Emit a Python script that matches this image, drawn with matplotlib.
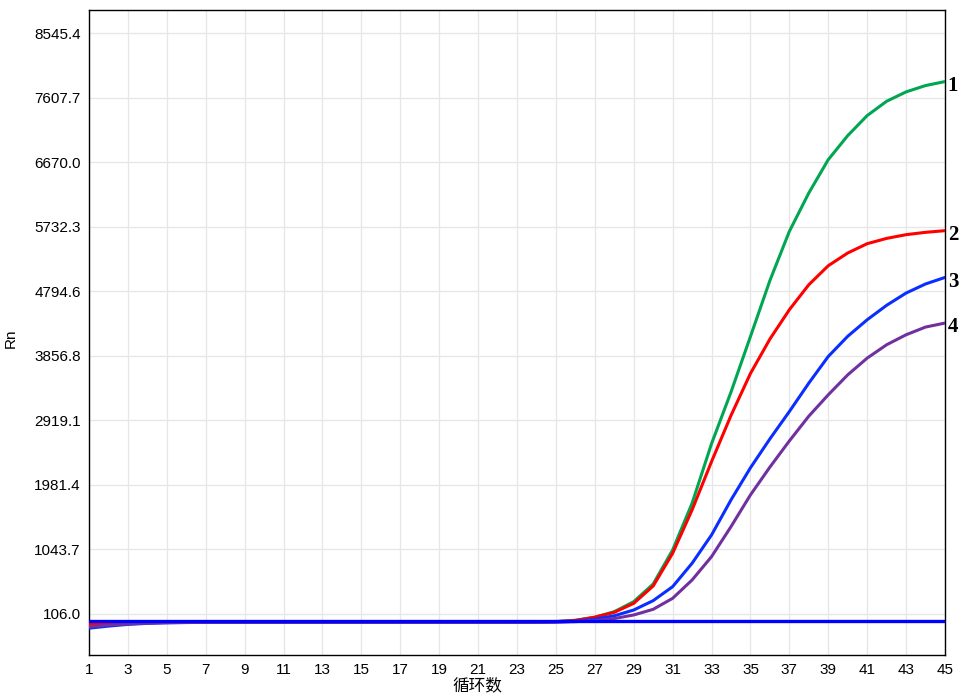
import matplotlib
matplotlib.use('Agg')
import matplotlib.pyplot as plt
import numpy as np

# data
cycles = list(range(1, 46))

curve_1 = [-60, -40, -28, -20, -16, -15, -14, -14, -14, -14,
           -14, -14, -14, -14, -14, -14, -14, -14, -14, -14,
           -14, -14, -13, -11, -5, 15, 58, 140, 285, 542,
           1036, 1715, 2580, 3330, 4137, 4950, 5664, 6222, 6706, 7055,
           7346, 7554, 7690, 7782, 7840]
curve_2 = [-40, -30, -22, -18, -15, -14, -13, -13, -13, -13,
           -13, -13, -13, -13, -13, -13, -13, -13, -13, -13,
           -13, -13, -12, -10, -4, 12, 60, 130, 261, 513,
           988, 1618, 2320, 2990, 3600, 4100, 4526, 4889, 5165, 5350,
           5485, 5562, 5616, 5650, 5674]
curve_3 = [-100, -70, -45, -30, -22, -18, -16, -15, -15, -15,
           -15, -15, -15, -15, -15, -15, -15, -15, -15, -15,
           -15, -15, -14, -12, -10, 0, 30, 80, 164, 300,
           503, 843, 1254, 1763, 2230, 2650, 3047, 3460, 3847, 4140,
           4380, 4590, 4768, 4900, 4995]
curve_4 = [-80, -55, -38, -26, -20, -17, -16, -15, -15, -15,
           -15, -15, -15, -15, -15, -15, -15, -15, -15, -15,
           -15, -15, -14, -13, -12, -5, 10, 40, 92, 174,
           334, 600, 939, 1375, 1836, 2240, 2620, 2980, 3290, 3580,
           3823, 4017, 4162, 4274, 4332]
threshold = 0

curve_names = ['1', '2', '3', '4']
curve_colors = ['#00A651', '#FF0000', '#0A2EFF', '#7030A0']

y_tick_labels = ['106.0', '1043.7', '1981.4', '2919.1', '3856.8',
                 '4794.6', '5732.3', '6670.0', '7607.7', '8545.4']
x_ticks = list(range(1, 46, 2))

plt.rcParams['font.family'] = ['Liberation Sans', 'Noto Sans CJK SC']

fig = plt.figure(figsize=(9.75, 7), dpi=100, facecolor='w')
ax = fig.add_axes([89 / 975, 45 / 700, 856 / 975, 645 / 700])

for vals, color in zip([curve_1, curve_2, curve_3, curve_4], curve_colors):
    ax.plot(cycles, vals, color=color, linewidth=2.2, zorder=3,
            solid_joinstyle='round')

# threshold line
ax.axhline(threshold, color='#0000FF', linewidth=2.4, zorder=4)

# curve numbers at the right edge
for vals, name in zip([curve_1, curve_2, curve_3, curve_4], curve_names):
    ax.annotate(name, xy=(cycles[-1], vals[-1]), xytext=(2, -3),
                textcoords='offset points', ha='left', va='center',
                fontsize=15, fontweight='bold', family='Liberation Serif',
                annotation_clip=False)

ax.set_xlim(1, 45)
ax.set_ylim(-489.6, 8879.5)
ax.set_xticks(x_ticks)
ax.set_yticks([float(t) for t in y_tick_labels])
ax.set_yticklabels(y_tick_labels)
ax.tick_params(length=0, labelsize=11, pad=6)
ax.grid(True, color='#E6E6E6', linewidth=0.9, zorder=0)
ax.set_axisbelow(True)
for sp in ax.spines.values():
    sp.set_linewidth(1.0)
    sp.set_color('k')

ax.set_xlabel('循环数', fontsize=12, family=['Noto Sans CJK SC'])
ax.xaxis.set_label_coords(0.454, -0.035)
fig.text(11 / 975, 1 - 338 / 700, 'Rn', rotation=90, ha='center',
         va='center', fontsize=11)

plt.savefig('out.png', dpi=100)
plt.close()
